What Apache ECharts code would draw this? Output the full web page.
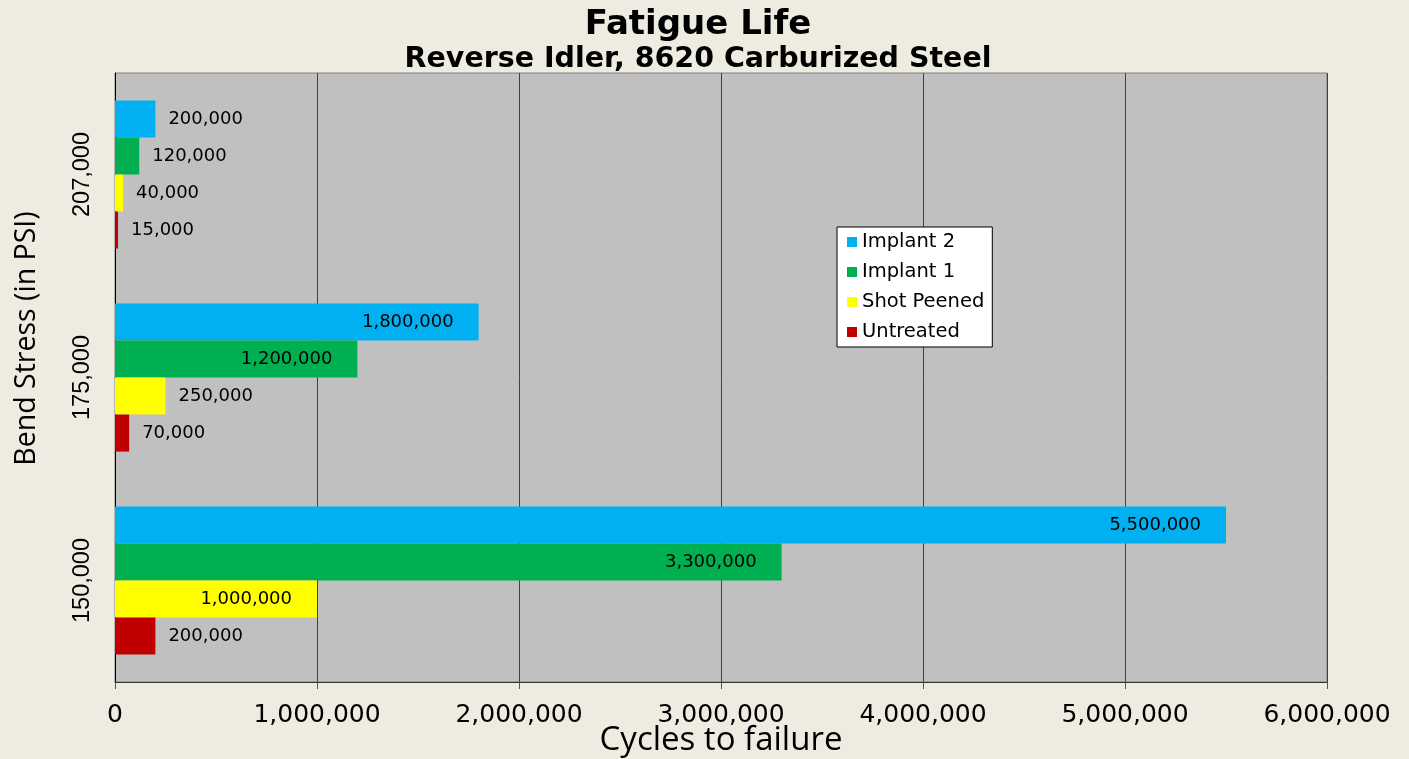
<!DOCTYPE html>
<html>
<head>
<meta charset="utf-8">
<script src="https://cdn.jsdelivr.net/npm/echarts@6/dist/echarts.min.js"></script>
<style>
html,body{margin:0;padding:0;background:#eeebe1;}
#chart{width:1409px;height:759px;}
</style>
</head>
<body>
<div id="chart"></div>
<script>
const categories = ['150,000', '175,000', '207,000'];
const seriesNames = ['Implant 2', 'Implant 1', 'Shot Peened', 'Untreated'];
const implant2 = [5500000, 1800000, 200000];
const implant1 = [3300000, 1200000, 120000];
const shotPeened = [1000000, 250000, 40000];
const untreated = [200000, 70000, 15000];

const colors = ['#00b0f0', '#00b050', '#ffff00', '#c00000'];
const fmt = v => Number(v).toLocaleString('en-US');

function items(values) {
  return values.map(v => {
    const inside = v >= 500000;
    return {
      value: v,
      label: inside ? { position: 'insideRight', distance: 25 } : { position: 'right', distance: 13 }
    };
  });
}

const valuesList = [implant2, implant1, shotPeened, untreated];

const chart = echarts.init(document.getElementById('chart'), null, { renderer: 'canvas' });
chart.setOption({
  backgroundColor: '#eeebe1',
  animation: false,
  title: [
    { text: 'Fatigue Life', left: 693, top: 3, textAlign: 'center',
      textStyle: { fontFamily: 'DejaVu Sans', fontWeight: 'bold', fontSize: 34, color: '#000' } },
    { text: 'Reverse Idler, 8620 Carburized Steel', left: 693, top: 40, textAlign: 'center',
      textStyle: { fontFamily: 'DejaVu Sans', fontWeight: 'bold', fontSize: 28.5, color: '#000' } }
  ],
  legend: {
    orient: 'vertical',
    left: 837, top: 227,
    data: seriesNames,
    icon: 'rect',
    itemWidth: 10, itemHeight: 10,
    itemGap: 10,
    padding: [5, 8, 5, 10],
    backgroundColor: '#ffffff',
    borderColor: '#000000',
    borderWidth: 1,
    borderRadius: 0,
    textStyle: { fontFamily: 'DejaVu Sans', fontSize: 19.5, color: '#000', lineHeight: 20 }
  },
  grid: {
    left: 115, right: 82, top: 73, bottom: 77,
    outerBoundsMode: 'none',
    show: true, backgroundColor: '#c0c0c0', borderColor: '#808080', borderWidth: 1,
    containLabel: false
  },
  xAxis: {
    type: 'value',
    min: 0, max: 6000000, interval: 1000000,
    name: 'Cycles to failure',
    nameLocation: 'middle',
    nameGap: 42,
    nameMoveOverlap: false,
    nameTextStyle: { fontFamily: 'Open Sans', fontSize: 33, color: '#000' },
    axisLine: { show: true, lineStyle: { color: '#333', width: 1 } },
    axisTick: { show: true, length: 7, lineStyle: { color: '#555' } },
    axisLabel: { fontFamily: 'DejaVu Sans', fontSize: 25, color: '#000', margin: 21, formatter: v => fmt(v) },
    splitLine: { show: true, lineStyle: { color: '#404040', width: 1 } }
  },
  yAxis: {
    type: 'category',
    data: categories,
    name: 'Bend Stress (in PSI)',
    nameLocation: 'middle',
    nameGap: 74,
    nameRotate: 90,
    nameMoveOverlap: false,
    nameTextStyle: { fontFamily: 'Open Sans', fontSize: 28.5, color: '#000', padding: [0, 0, 0, 78] },
    axisLine: { show: true, lineStyle: { color: '#000', width: 1 } },
    axisTick: { show: false },
    axisLabel: { rotate: 90, fontFamily: 'Liberation Sans', fontSize: 23.5, color: '#000', margin: 20 },
    splitLine: { show: false }
  },
  series: seriesNames.map((name, i) => ({
    name: name,
    type: 'bar',
    data: items(valuesList[i]),
    itemStyle: { color: colors[i] },
    barGap: '0%',
    barCategoryGap: '27%',
    label: {
      show: true,
      fontFamily: 'DejaVu Sans', fontSize: 18, color: '#000',
      formatter: p => fmt(p.value)
    }
  }))
});
</script>
</body>
</html>
